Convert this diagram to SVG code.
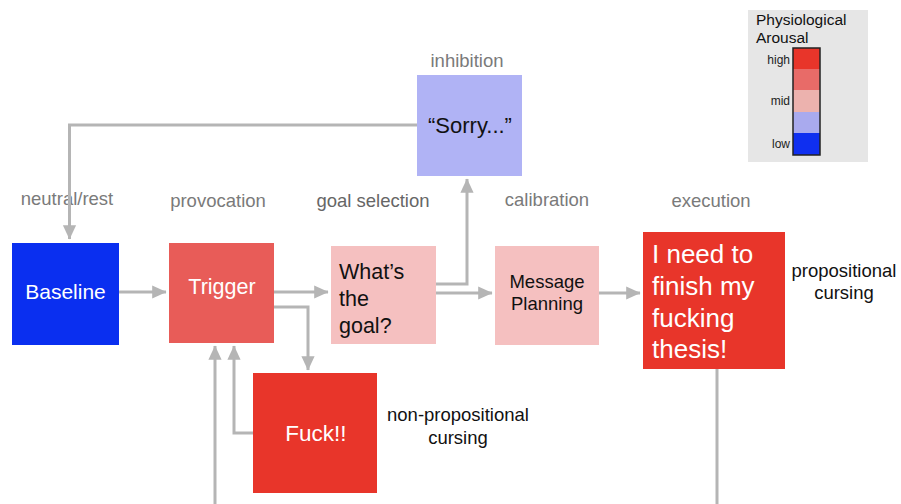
<svg xmlns="http://www.w3.org/2000/svg" width="901" height="504" viewBox="0 0 901 504">
<defs>
<marker id="ah" markerWidth="5" markerHeight="5" refX="4.6" refY="2.5" orient="auto" markerUnits="strokeWidth">
<path d="M0,0.3 L4.8,2.5 L0,4.7 Z" fill="#b5b5b5"/>
</marker>
</defs>
<style>
text{font-family:"Liberation Sans",Arial,Helvetica,sans-serif}
.stage{font-size:18.5px;fill:#7a7a7a;text-anchor:middle}
.lbl{font-size:18.5px;fill:#111;text-anchor:middle}
.wl{fill:#fff}
.conn{fill:none;stroke:#b5b5b5;stroke-width:3}
.leg{font-size:12px;fill:#222;text-anchor:end}
</style>
<rect width="901" height="504" fill="#fff"/>

<g id="legend">
<rect x="748" y="10" width="120" height="152" fill="#e6e6e6"/>
<text x="756" y="25" font-size="15.5" fill="#111">Physiological</text>
<text x="756" y="43" font-size="15.5" fill="#111">Arousal</text>
<rect x="793" y="48" width="27" height="21" fill="#e8352a"/>
<rect x="793" y="69" width="27" height="21" fill="#e86b68"/>
<rect x="793" y="90" width="27" height="22" fill="#ecb2ae"/>
<rect x="793" y="112" width="27" height="21" fill="#a9aaee"/>
<rect x="793" y="133" width="27" height="22" fill="#0f2ff0"/>
<rect x="793" y="48" width="27" height="107" fill="none" stroke="#222" stroke-width="1.5"/>
<text class="leg" x="790" y="64">high</text>
<text class="leg" x="790" y="105">mid</text>
<text class="leg" x="790" y="148">low</text>
</g>

<g id="stage-labels">
<text class="stage" x="67" y="205">neutral/rest</text>
<text class="stage" x="218" y="207">provocation</text>
<text class="stage" x="373" y="207" style="fill:#666">goal selection</text>
<text class="stage" x="547" y="206">calibration</text>
<text class="stage" x="711" y="207">execution</text>
<text class="stage" x="467" y="67">inhibition</text>
</g>

<g id="connectors">
<path class="conn" d="M417,125 H69.5 V239" marker-end="url(#ah)"/>
<path class="conn" d="M119,292 H166" marker-end="url(#ah)"/>
<path class="conn" d="M274,292 H328" marker-end="url(#ah)"/>
<path class="conn" d="M274,307 H308 V370" marker-end="url(#ah)"/>
<path class="conn" d="M436,284 H467 V179" marker-end="url(#ah)"/>
<path class="conn" d="M436,293 H492" marker-end="url(#ah)"/>
<path class="conn" d="M599,293 H640" marker-end="url(#ah)"/>
<path class="conn" d="M253,433 H234 V346" marker-end="url(#ah)"/>
<path class="conn" d="M215,504 V346" marker-end="url(#ah)"/>
<path class="conn" d="M717,369 V504"/>
</g>

<g id="baseline">
<rect x="12" y="243" width="107" height="102" fill="#0a2ff0"/>
<text x="65.5" y="299" font-size="21" text-anchor="middle" class="wl">Baseline</text>
</g>

<g id="trigger">
<rect x="169" y="243" width="105" height="100" fill="#e85c58"/>
<text x="222" y="294" font-size="21.5" text-anchor="middle" class="wl">Trigger</text>
</g>

<g id="goal">
<rect x="331" y="246" width="105" height="98" fill="#f5c0c0"/>
<text x="339" y="279" font-size="21.5" fill="#111">What’s</text>
<text x="339" y="306" font-size="21.5" fill="#111">the</text>
<text x="339" y="333" font-size="21.5" fill="#111">goal?</text>
</g>

<g id="sorry">
<rect x="417" y="75" width="105" height="101" fill="#b0b3f5"/>
<text x="470" y="133" font-size="22" text-anchor="middle" fill="#111">“Sorry...”</text>
</g>

<g id="message">
<rect x="495" y="246" width="104" height="99" fill="#f5c0c0"/>
<text x="547" y="288" font-size="18.5" text-anchor="middle" fill="#111">Message</text>
<text x="547" y="310" font-size="18.5" text-anchor="middle" fill="#111">Planning</text>
</g>

<g id="execution">
<rect x="643" y="232" width="142" height="137" fill="#e8352a"/>
<text x="652" y="263" font-size="26" class="wl">I need to</text>
<text x="652" y="295" font-size="26" class="wl">finish my</text>
<text x="652" y="327" font-size="26" class="wl">fucking</text>
<text x="652" y="358" font-size="26" class="wl">thesis!</text>
</g>
<text class="lbl" x="844" y="277">propositional</text>
<text class="lbl" x="844" y="299">cursing</text>

<g id="fuck">
<rect x="253" y="373" width="124" height="120" fill="#e8352a"/>
<text x="316" y="441" font-size="22.5" text-anchor="middle" class="wl">Fuck!!</text>
</g>
<text class="lbl" x="458" y="421">non-propositional</text>
<text class="lbl" x="458" y="444">cursing</text>
</svg>
